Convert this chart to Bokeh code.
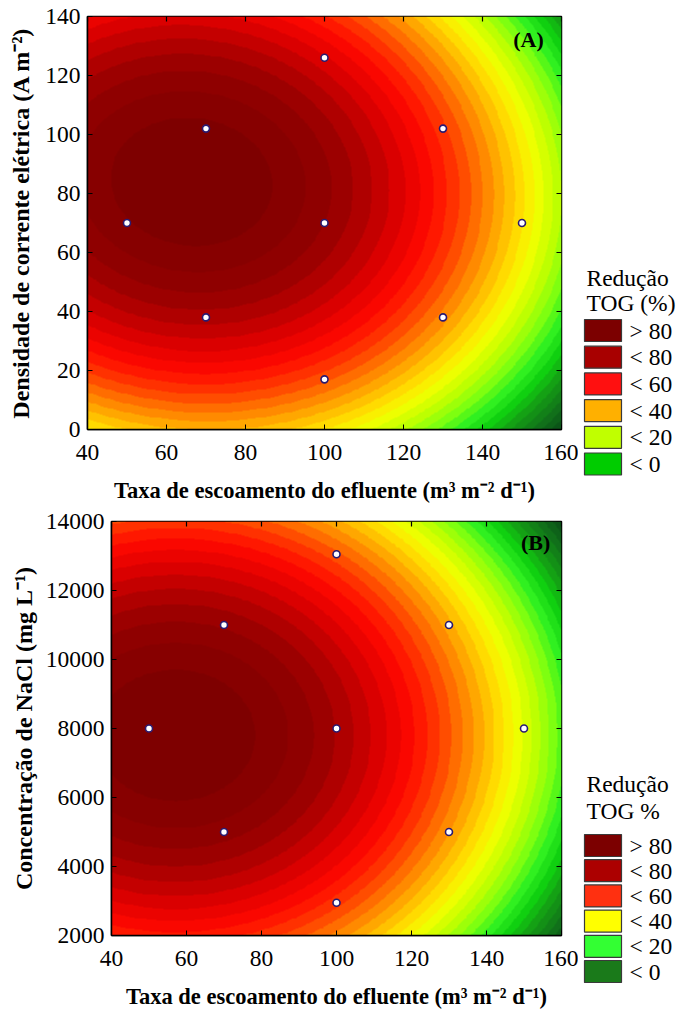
import numpy as np
from bokeh.plotting import figure
from bokeh.models import Range1d, FixedTicker, LinearColorMapper, Label
from bokeh.layouts import column, row
from bokeh.embed import file_html
from bokeh.resources import INLINE
from bokeh.core.properties import value

# ---- design points (central composite design) ----
flow_a = [100, 70, 130, 50, 100, 150, 70, 130, 100]
current_a = [126, 102, 102, 70, 70, 70, 38, 38, 17]
flow_b = [100, 70, 130, 50, 100, 150, 70, 130, 100]
nacl_b = [13050, 11000, 11000, 8000, 8000, 8000, 5000, 5000, 2950]

# ---- axes ----
x_ticks = [40, 60, 80, 100, 120, 140, 160]
y_ticks_a = [0, 20, 40, 60, 80, 100, 120, 140]
y_ticks_b = [2000, 4000, 6000, 8000, 10000, 12000, 14000]

# ---- fitted quadratic response surfaces for TOG reduction (%) ----
# z = peak - kx*(x-x0)^2 - ky*(y-y0)^2 + kxy*(x-x0)*(y-y0)
model_a = dict(peak=90.0, x0=66.3, y0=84.0, kx=0.00766, ky=0.0068, kxy=-0.0008)
model_b = dict(peak=90.0, x0=57.0, y0=7800.0, kx=0.0060, ky=0.75e-6, kxy=0.0)

# ---- legend classes ----
legend_labels = ["> 80", "< 80", "< 60", "< 40", "< 20", "< 0"]
legend_colors_a = ["#7c0000", "#a80000", "#ff1010", "#ffb000", "#c0ff00", "#00cc00"]
legend_colors_b = ["#7c0000", "#ac0000", "#ff3010", "#ffff00", "#33ff33", "#1a7a1a"]

SERIF = "Liberation Serif"
PLOT_W = 578      # width of each contour figure
LEG_W = 100       # width of the legend strip on the right
PAGE_H = 1011

# colour ramp from the surface minimum (t=0) to its maximum (t=1)
RAMP = [
    (0.00, "#0b4d18"), (0.08, "#11731a"), (0.16, "#14a014"), (0.22, "#10d010"),
    (0.28, "#30f020"), (0.34, "#80ff10"), (0.40, "#c0ff00"), (0.46, "#f0ff00"),
    (0.50, "#ffe800"), (0.56, "#ffb400"), (0.62, "#ff7a00"), (0.68, "#ff3a00"),
    (0.74, "#ff0800"), (0.80, "#e00000"), (0.86, "#b40000"), (0.91, "#940000"),
    (1.00, "#7a0000"),
]


def ramp_color(t):
    ts = [s[0] for s in RAMP]
    rgb = np.array([[int(c[i:i + 2], 16) for i in (1, 3, 5)] for _, c in RAMP], float)
    r, g, b = (np.interp(t, ts, rgb[:, k]) for k in range(3))
    return "#%02x%02x%02x" % (int(round(r)), int(round(g)), int(round(b)))


def surface(m, xr, yr, n=500):
    xs = np.linspace(xr[0], xr[1], n)
    ys = np.linspace(yr[0], yr[1], n)
    X, Y = np.meshgrid(xs, ys)
    dx, dy = X - m["x0"], Y - m["y0"]
    return m["peak"] - m["kx"] * dx ** 2 - m["ky"] * dy ** 2 + m["kxy"] * dx * dy


def style_axes(p, xt, yt, ylab_standoff):
    for ax in (p.xaxis[0], p.yaxis[0]):
        ax.major_label_text_font = SERIF
        ax.major_label_text_font_size = "23.5px"
        ax.major_label_text_color = "black"
        ax.axis_label_text_font = SERIF
        ax.axis_label_text_font_style = "bold"
        ax.axis_label_text_color = "black"
        ax.major_tick_in = 5
        ax.major_tick_out = 0
        ax.minor_tick_line_color = None
        ax.axis_line_color = "black"
        ax.axis_line_width = 1.5
        ax.major_tick_line_color = "black"
    p.xaxis[0].axis_label_text_font_size = "22.5px"
    p.yaxis[0].axis_label_text_font_size = "24px"
    p.xaxis[0].ticker = FixedTicker(ticks=xt)
    p.yaxis[0].ticker = FixedTicker(ticks=yt)
    p.xaxis[0].major_label_standoff = 15
    p.xaxis[0].axis_label_standoff = 15
    p.yaxis[0].major_label_standoff = 7
    p.yaxis[0].axis_label_standoff = ylab_standoff


def panel(m, yr, yt, px, py, ylabel, tag, tag_xy, height, left, bottom, ylab_standoff):
    p = figure(width=PLOT_W, height=height, x_range=Range1d(40, 160), y_range=Range1d(*yr),
               output_backend="svg", toolbar_location=None,
               min_border_left=left, min_border_right=PLOT_W - 561, min_border_top=16,
               min_border_bottom=bottom, background_fill_color="white",
               border_fill_color="white")
    p.grid.visible = False
    p.outline_line_color = "black"
    p.outline_line_width = 1.5

    z = surface(m, (40, 160), yr)
    zmin, zmax = float(z.min()), float(z.max())
    nb = 34
    levels = np.linspace(zmin, zmax, nb + 1)
    mids = 0.5 * (levels[:-1] + levels[1:])
    palette = [ramp_color((v - zmin) / (zmax - zmin)) for v in mids]
    mapper = LinearColorMapper(palette=palette, low=zmin, high=zmax)
    p.image(image=[z], x=40, y=yr[0], dw=120, dh=yr[1] - yr[0], color_mapper=mapper)

    # inward tick marks on the top and right edges
    p.scatter(x_ticks, [yr[1]] * len(x_ticks), marker="dash", size=10, angle=np.pi / 2,
              line_color="black", line_width=1.2)
    p.scatter([160] * len(yt), yt, marker="dash", size=10, line_color="black",
              line_width=1.2)

    p.scatter(px, py, size=7, fill_color="white", line_color="#2a1a70", line_width=1.6)

    p.add_layout(Label(x=tag_xy[0], y=tag_xy[1], text=tag, text_font=SERIF,
                       text_font_style="bold", text_font_size="22px",
                       text_align="right", text_baseline="top", text_color="black"))

    p.xaxis.axis_label = "Taxa de escoamento do efluente (m³ m⁻² d⁻¹)"
    p.yaxis.axis_label = ylabel
    style_axes(p, x_ticks, yt, ylab_standoff)
    return p


def draw_legend(lf, title_lines, title_ys, colors, first_y, step):
    """Legend block drawn in page pixel coordinates of the legend strip."""
    lf.text(x=[586] * len(title_lines), y=title_ys, text=title_lines,
            text_font=value(SERIF), text_font_size="23.5px", text_color="black",
            text_baseline="middle", text_align="left")
    ys = [first_y + step * i for i in range(len(legend_labels))]
    lf.rect(x=[602.5] * len(ys), y=ys, width=37, height=22, fill_color=colors,
            line_color="#3a3a3a", line_width=1.2)
    lf.text(x=[629] * len(ys), y=ys, text=legend_labels, text_font=value(SERIF),
            text_font_size="23.5px", text_color="black", text_baseline="middle",
            text_align="left")


pa = panel(model_a, (0, 140), y_ticks_a, flow_a, current_a,
           "Densidade de corrente elétrica (A m⁻²)", "(A)", (155.5, 136.5), 505, 87, 72, 8)
pb = panel(model_b, (2000, 14000), y_ticks_b, flow_b, nacl_b,
           "Concentração de NaCl (mg L⁻¹)", "(B)", (157, 13760), 506, 111, 70, 6)

# legend strip spanning both panels; y runs downwards in page pixels
lf = figure(width=LEG_W, height=PAGE_H, x_range=Range1d(PLOT_W, PLOT_W + LEG_W),
            y_range=Range1d(PAGE_H, 0), output_backend="svg", toolbar_location=None,
            x_axis_location=None, y_axis_location=None, min_border=0,
            background_fill_color="white", border_fill_color="white")
lf.grid.visible = False
lf.outline_line_color = None
draw_legend(lf, ["Redução", "TOG (%)"], [277, 302], legend_colors_a, 330, 26.7)
draw_legend(lf, ["Redução", "TOG %"], [783, 810], legend_colors_b, 845, 25.2)

layout = row(column(row(pa), row(pb)), lf)
open("out.html", "w").write(file_html(layout, INLINE))
